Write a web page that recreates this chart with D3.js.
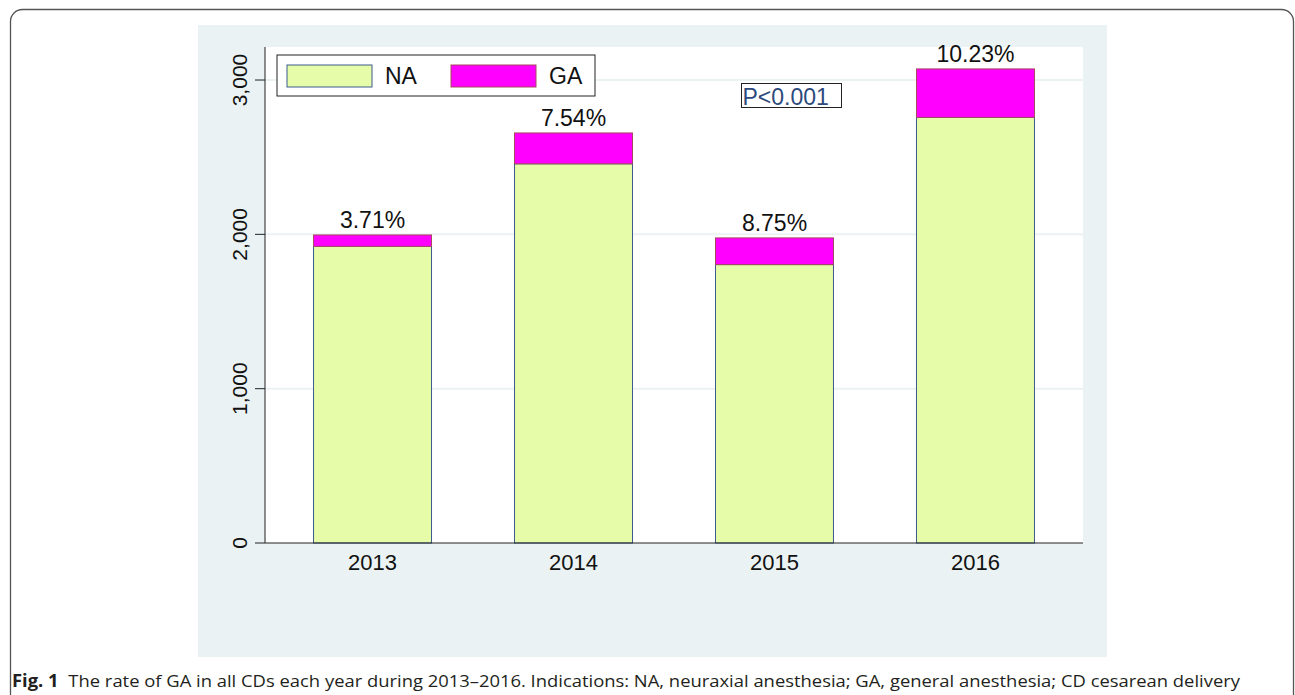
<!DOCTYPE html>
<html>
<head>
<meta charset="utf-8">
<script src="https://cdn.jsdelivr.net/npm/d3@7"></script>
<style>
  html, body { margin: 0; padding: 0; background: #fff; }
  svg { display: block; }
</style>
</head>
<body>
<div id="chart"></div>
<script>
'use strict';

// data
var years = ['2013', '2014', '2015', '2016'];
var naValues = [1922, 2457, 1804, 2758];
var gaValues = [74, 200, 173, 314];
var rateLabels = ['3.71%', '7.54%', '8.75%', '10.23%'];
var yTicks = [0, 1000, 2000, 3000];
var seriesNames = ['NA', 'GA'];

var W = 1295, H = 695;
var font = 'Liberation Sans, Arial, sans-serif';
var colors = { NA: '#e7fca8', GA: '#ff00ff' };
var strokes = { NA: '#3d5a8c', GA: '#a8485e' };

var svg = d3.select('#chart').append('svg')
  .attr('width', W)
  .attr('height', H);

// outer frame (bottom runs off the page)
svg.append('rect')
  .attr('x', 10.5).attr('y', 9.5)
  .attr('width', 1283).attr('height', 700)
  .attr('rx', 12).attr('ry', 12)
  .attr('fill', 'none')
  .attr('stroke', '#555')
  .attr('stroke-width', 1.3);

// graph region
svg.append('rect')
  .attr('x', 198).attr('y', 25)
  .attr('width', 909).attr('height', 632)
  .attr('fill', '#eaf2f3');

var plot = { left: 265, right: 1083, top: 47, bottom: 543 };

svg.append('rect')
  .attr('x', plot.left).attr('y', plot.top)
  .attr('width', plot.right - plot.left).attr('height', plot.bottom - plot.top)
  .attr('fill', '#fff');

var x = d3.scaleBand()
  .domain(years)
  .range([plot.left, plot.right])
  .paddingInner(0.408)
  .paddingOuter(0.239);

var y = d3.scaleLinear()
  .domain([0, 3214])
  .range([plot.bottom, plot.top]);

// grid lines
svg.append('g')
  .selectAll('line')
  .data(yTicks.filter(function(d) { return d > 0; }))
  .enter().append('line')
  .attr('x1', plot.left).attr('x2', plot.right)
  .attr('y1', function(d) { return y(d); })
  .attr('y2', function(d) { return y(d); })
  .attr('stroke', '#eaf2f3')
  .attr('stroke-width', 2);

// stacked bars
var rows = years.map(function(yr, i) {
  return { year: yr, NA: naValues[i], GA: gaValues[i], label: rateLabels[i] };
});
var stack = d3.stack().keys(seriesNames)(rows);

svg.append('g')
  .selectAll('g')
  .data(stack)
  .enter().append('g')
  .attr('fill', function(s) { return colors[s.key]; })
  .attr('stroke', function(s) { return strokes[s.key]; })
  .attr('stroke-width', 1)
  .selectAll('rect')
  .data(function(s) { return s; })
  .enter().append('rect')
  .attr('x', function(d) { return x(d.data.year) + 0.5; })
  .attr('width', x.bandwidth() - 1)
  .attr('y', function(d) { return y(d[1]); })
  .attr('height', function(d) { return y(d[0]) - y(d[1]); });

// rate labels
svg.append('g')
  .selectAll('text')
  .data(rows)
  .enter().append('text')
  .attr('x', function(d) { return x(d.year) + x.bandwidth() / 2; })
  .attr('y', function(d) { return y(d.NA + d.GA) - 7; })
  .attr('text-anchor', 'middle')
  .attr('font-family', font)
  .attr('font-size', 23)
  .attr('fill', '#111')
  .text(function(d) { return d.label; });

// y axis
var yAxis = d3.axisLeft(y)
  .tickValues(yTicks)
  .tickSize(10)
  .tickFormat(d3.format(','));

var gy = svg.append('g')
  .attr('transform', 'translate(' + plot.left + ',0)')
  .call(yAxis);
gy.select('.domain').attr('stroke', '#222').attr('d', 'M0,' + plot.top + 'V' + plot.bottom);
gy.selectAll('.tick').attr('transform', null);
gy.selectAll('.tick line')
  .attr('stroke', '#222')
  .attr('y1', function(d) { return y(d); })
  .attr('y2', function(d) { return y(d); });
gy.selectAll('.tick text')
  .attr('font-family', font)
  .attr('font-size', 21)
  .attr('fill', '#111')
  .attr('x', -18)
  .attr('y', function(d) { return y(d); })
  .attr('dy', '0')
  .attr('text-anchor', 'middle')
  .attr('transform', function(d) { return 'rotate(-90,' + (-18) + ',' + y(d) + ')'; });

// x axis
var xAxis = d3.axisBottom(x).tickSize(0).tickPadding(11);
var gx = svg.append('g')
  .attr('transform', 'translate(0,' + plot.bottom + ')')
  .call(xAxis);
gx.select('.domain').attr('stroke', '#222').attr('d', 'M' + plot.left + ',0H' + plot.right);
gx.selectAll('.tick text')
  .attr('font-family', font)
  .attr('font-size', 22)
  .attr('fill', '#111');

// legend
var legend = svg.append('g').attr('transform', 'translate(277,55)');
legend.append('rect')
  .attr('width', 318).attr('height', 41)
  .attr('fill', '#fff')
  .attr('stroke', '#222')
  .attr('stroke-width', 1);
var items = legend.selectAll('g.item')
  .data(seriesNames)
  .enter().append('g')
  .attr('class', 'item')
  .attr('transform', function(d, i) { return 'translate(' + (10 + i * 164) + ',10)'; });
items.append('rect')
  .attr('width', 85).attr('height', 22)
  .attr('fill', function(d) { return colors[d]; })
  .attr('stroke', function(d) { return strokes[d]; })
  .attr('stroke-width', 1);
items.append('text')
  .attr('x', 98).attr('y', 19)
  .attr('font-family', font)
  .attr('font-size', 23)
  .attr('fill', '#111')
  .text(function(d) { return d; });

// p-value box
var pv = svg.append('g').attr('transform', 'translate(741.5,83.5)');
pv.append('rect')
  .attr('width', 100).attr('height', 24)
  .attr('fill', '#fff')
  .attr('stroke', '#222')
  .attr('stroke-width', 1);
pv.append('text')
  .attr('x', 1).attr('y', 21)
  .attr('font-family', font)
  .attr('font-size', 23)
  .attr('fill', '#2c4a7c')
  .text('P<0.001');

// caption
var cap = svg.append('text')
  .attr('x', 12).attr('y', 687)
  .attr('font-family', 'Open Sans, Noto Sans, sans-serif')
  .attr('font-size', 17)
  .attr('fill', '#231f20');
cap.append('tspan').attr('font-weight', 'bold').text('Fig. 1');
cap.append('tspan').attr('dx', 9)
  .text('The rate of GA in all CDs each year during 2013\u20132016. Indications: NA, neuraxial anesthesia; GA, general anesthesia; CD cesarean delivery');
cap.attr('textLength', 1228).attr('lengthAdjust', 'spacingAndGlyphs');
</script>
</body>
</html>
